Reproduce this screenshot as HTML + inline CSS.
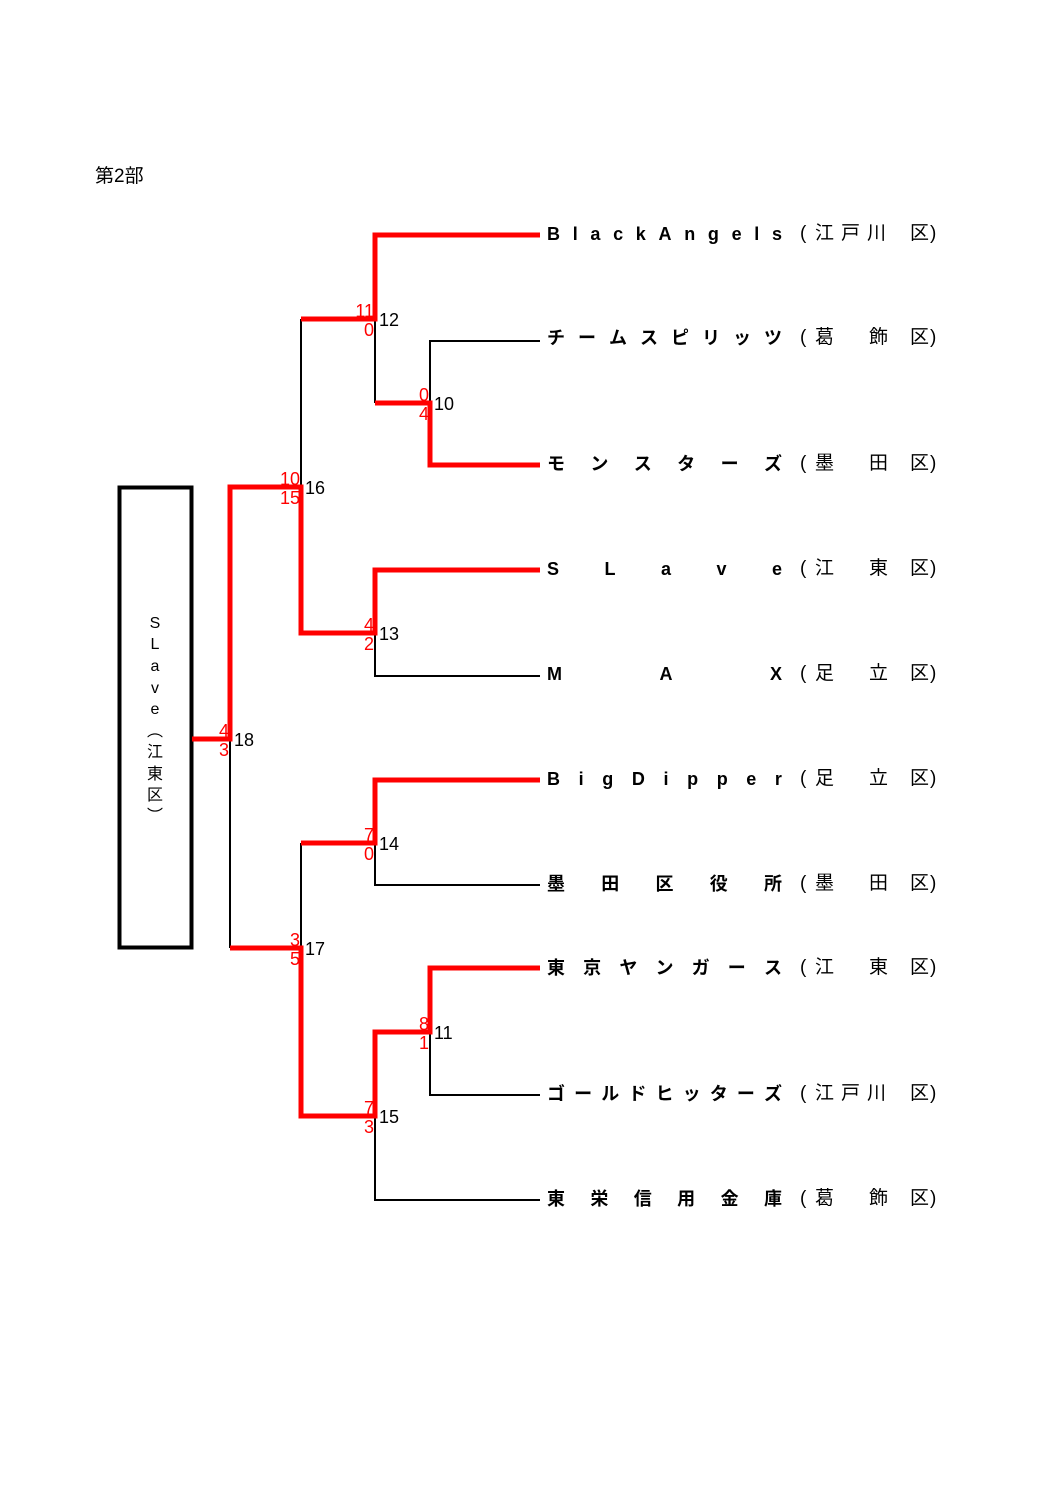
<!DOCTYPE html>
<html><head><meta charset="utf-8"><style>
body{margin:0;background:#fff;}
.w{position:relative;width:1058px;height:1497px;overflow:hidden;font-family:"Liberation Sans","Noto Sans CJK JP",sans-serif;}
.t{position:absolute;left:547px;width:235px;height:22px;display:flex;justify-content:space-between;font-weight:bold;font-size:18px;line-height:22px;}
.c{position:absolute;font-size:19px;line-height:22px;height:22px;}
</style></head><body><div class="w">
<svg width="1058" height="1497" style="position:absolute;left:0;top:0" font-family="Liberation Sans, Noto Sans CJK JP, sans-serif">
<g fill="none" stroke="#000" stroke-width="2">
<rect x="119.5" y="487.5" width="72" height="460" stroke-width="4"/>
<path d="M230 739V948M301 487V319M375 319V403M430 403V341H540M375 633V676H540M301 948V843M375 843V885H540M375 1116V1200H540M430 1032V1095H540"/>
</g>
<g fill="none" stroke="#f00" stroke-width="5" stroke-linejoin="miter">
<path d="M192 739H230V487H301V633H375V570H540"/>
<path d="M301 319H375V235H540"/>
<path d="M375 403H430V465H540"/>
<path d="M230 948H301V1116H375V1032H430V968H540"/>
<path d="M301 843H375V780H540"/>
</g>
<g font-size="18" fill="#f00" text-anchor="end">
<text x="229" y="737">4</text><text x="229" y="756">3</text>
<text x="300" y="485">10</text><text x="300" y="504">15</text>
<text x="300" y="946">3</text><text x="300" y="965">5</text>
<text x="374" y="317">11</text><text x="374" y="336">0</text>
<text x="374" y="631">4</text><text x="374" y="650">2</text>
<text x="374" y="841">7</text><text x="374" y="860">0</text>
<text x="374" y="1114">7</text><text x="374" y="1133">3</text>
<text x="429" y="401">0</text><text x="429" y="420">4</text>
<text x="429" y="1030">8</text><text x="429" y="1049">1</text>
</g>
<g font-size="18" fill="#000">
<text x="234" y="746">18</text><text x="305" y="494">16</text><text x="305" y="955">17</text>
<text x="379" y="326">12</text><text x="379" y="640">13</text><text x="379" y="850">14</text>
<text x="379" y="1123">15</text><text x="434" y="410">10</text><text x="434" y="1039">11</text>
</g>
<text x="95" y="182" font-size="19">第2部</text>
<g font-size="16" text-anchor="middle">
<text x="155" y="628">S</text><text x="155" y="649">L</text><text x="155" y="671">a</text><text x="155" y="693">v</text><text x="155" y="714">e</text>
<text x="155" y="736">︵</text><text x="155" y="757">江</text><text x="155" y="779">東</text><text x="155" y="800">区</text><text x="155" y="821">︶</text>
</g>
</svg>

<div class="t" style="top:223px"><span>B</span><span>l</span><span>a</span><span>c</span><span>k</span><span>A</span><span>n</span><span>g</span><span>e</span><span>l</span><span>s</span></div>
<div class="c" style="top:223px;left:800px">(</div><div class="c" style="top:223px;left:815px">江</div><div class="c" style="top:223px;left:841px">戸</div><div class="c" style="top:223px;left:867px">川</div><div class="c" style="top:223px;left:910px">区</div><div class="c" style="top:223px;left:930px">)</div>

<div class="t" style="top:327px"><span>チ</span><span>ー</span><span>ム</span><span>ス</span><span>ピ</span><span>リ</span><span>ッ</span><span>ツ</span></div>
<div class="c" style="top:327px;left:800px">(</div><div class="c" style="top:327px;left:815px">葛</div><div class="c" style="top:327px;left:869px">飾</div><div class="c" style="top:327px;left:910px">区</div><div class="c" style="top:327px;left:930px">)</div>

<div class="t" style="top:453px"><span>モ</span><span>ン</span><span>ス</span><span>タ</span><span>ー</span><span>ズ</span></div>
<div class="c" style="top:453px;left:800px">(</div><div class="c" style="top:453px;left:815px">墨</div><div class="c" style="top:453px;left:869px">田</div><div class="c" style="top:453px;left:910px">区</div><div class="c" style="top:453px;left:930px">)</div>

<div class="t" style="top:558px"><span>S</span><span>L</span><span>a</span><span>v</span><span>e</span></div>
<div class="c" style="top:558px;left:800px">(</div><div class="c" style="top:558px;left:815px">江</div><div class="c" style="top:558px;left:869px">東</div><div class="c" style="top:558px;left:910px">区</div><div class="c" style="top:558px;left:930px">)</div>

<div class="t" style="top:663px"><span>M</span><span>A</span><span>X</span></div>
<div class="c" style="top:663px;left:800px">(</div><div class="c" style="top:663px;left:815px">足</div><div class="c" style="top:663px;left:869px">立</div><div class="c" style="top:663px;left:910px">区</div><div class="c" style="top:663px;left:930px">)</div>

<div class="t" style="top:768px"><span>B</span><span>i</span><span>g</span><span>D</span><span>i</span><span>p</span><span>p</span><span>e</span><span>r</span></div>
<div class="c" style="top:768px;left:800px">(</div><div class="c" style="top:768px;left:815px">足</div><div class="c" style="top:768px;left:869px">立</div><div class="c" style="top:768px;left:910px">区</div><div class="c" style="top:768px;left:930px">)</div>

<div class="t" style="top:873px"><span>墨</span><span>田</span><span>区</span><span>役</span><span>所</span></div>
<div class="c" style="top:873px;left:800px">(</div><div class="c" style="top:873px;left:815px">墨</div><div class="c" style="top:873px;left:869px">田</div><div class="c" style="top:873px;left:910px">区</div><div class="c" style="top:873px;left:930px">)</div>

<div class="t" style="top:957px"><span>東</span><span>京</span><span>ヤ</span><span>ン</span><span>ガ</span><span>ー</span><span>ス</span></div>
<div class="c" style="top:957px;left:800px">(</div><div class="c" style="top:957px;left:815px">江</div><div class="c" style="top:957px;left:869px">東</div><div class="c" style="top:957px;left:910px">区</div><div class="c" style="top:957px;left:930px">)</div>

<div class="t" style="top:1083px"><span>ゴ</span><span>ー</span><span>ル</span><span>ド</span><span>ヒ</span><span>ッ</span><span>タ</span><span>ー</span><span>ズ</span></div>
<div class="c" style="top:1083px;left:800px">(</div><div class="c" style="top:1083px;left:815px">江</div><div class="c" style="top:1083px;left:841px">戸</div><div class="c" style="top:1083px;left:867px">川</div><div class="c" style="top:1083px;left:910px">区</div><div class="c" style="top:1083px;left:930px">)</div>

<div class="t" style="top:1188px"><span>東</span><span>栄</span><span>信</span><span>用</span><span>金</span><span>庫</span></div>
<div class="c" style="top:1188px;left:800px">(</div><div class="c" style="top:1188px;left:815px">葛</div><div class="c" style="top:1188px;left:869px">飾</div><div class="c" style="top:1188px;left:910px">区</div><div class="c" style="top:1188px;left:930px">)</div>
</div></body></html>
